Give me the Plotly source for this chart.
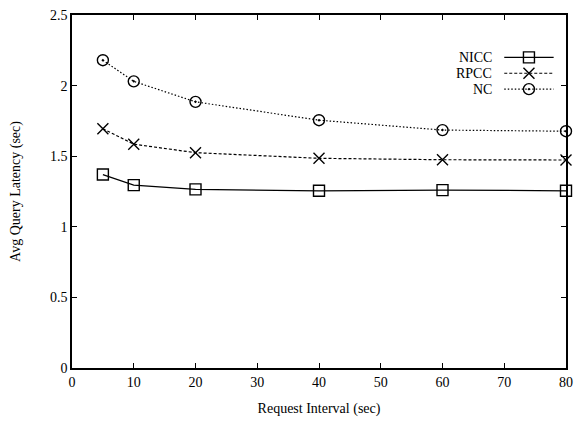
import plotly.graph_objects as go

intervals = [5, 10, 20, 40, 60, 80]
nicc = [1.37, 1.295, 1.265, 1.255, 1.26, 1.255]
rpcc = [1.695, 1.585, 1.525, 1.485, 1.475, 1.473]
nc = [2.18, 2.03, 1.885, 1.755, 1.685, 1.677]
names = ["NICC", "RPCC", "NC"]
dashes = ["solid", "3px,2px", "1.5px,2px"]
symbols = ["square-open", "x-thin-open", "circle-open-dot"]
xticks = [0, 10, 20, 30, 40, 50, 60, 70, 80]
yticks = [0, 0.5, 1, 1.5, 2, 2.5]

font = "Liberation Serif, Times New Roman, serif"
fig = go.Figure()
for name, ys, dash, sym in zip(names, [nicc, rpcc, nc], dashes, symbols):
    fig.add_trace(go.Scatter(
        x=intervals, y=ys, mode="lines+markers", name=name,
        line=dict(color="black", width=1.2, dash=dash),
        marker=dict(symbol=sym, size=11, color="black", line=dict(color="black", width=1.4)),
        showlegend=False, cliponaxis=False))

# custom legend (symbol to the right of text, gnuplot style)
leg_y = [0.88, 0.835, 0.79]
for name, dash, sym, yy in zip(names, dashes, symbols, leg_y):
    fig.add_trace(go.Scatter(
        x=[0.875, 0.925, 0.975], y=[yy, yy, yy], xaxis="x2", yaxis="y2",
        mode="lines", line=dict(color="black", width=1.2, dash=dash),
        showlegend=False, hoverinfo="skip"))
    fig.add_trace(go.Scatter(
        x=[0.925], y=[yy], xaxis="x2", yaxis="y2", mode="markers",
        marker=dict(symbol=sym, size=11, color="black", line=dict(color="black", width=1.4)),
        showlegend=False, hoverinfo="skip"))
    fig.add_annotation(x=0.855, y=yy, xref="x2", yref="y2", text=name, showarrow=False,
                       xanchor="right", yanchor="middle", font=dict(family=font, size=14, color="black"))

axis_common = dict(showgrid=False, zeroline=False, showline=True, linecolor="black", linewidth=1.5,
                   ticks="inside", ticklen=5, tickwidth=1, tickcolor="black", mirror="allticks",
                   tickfont=dict(family=font, size=14, color="black"))
fig.update_layout(
    width=581, height=423, paper_bgcolor="white", plot_bgcolor="white",
    margin=dict(l=72, r=8, t=15, b=55),
    xaxis=dict(range=[0, 80], tickvals=xticks, ticktext=[str(v) for v in xticks],
               title=dict(text="Request Interval (sec)", font=dict(family=font, size=14, color="black"), standoff=15),
               **axis_common),
    yaxis=dict(range=[0, 2.5], tickvals=yticks, ticktext=[str(v) for v in yticks],
               title=dict(text="Avg Query Latency (sec)", font=dict(family=font, size=14, color="black"), standoff=26),
               **axis_common),
    xaxis2=dict(overlaying="x", range=[0, 1], visible=False),
    yaxis2=dict(overlaying="y", range=[0, 1], visible=False),
)
fig.write_html("out.html")
